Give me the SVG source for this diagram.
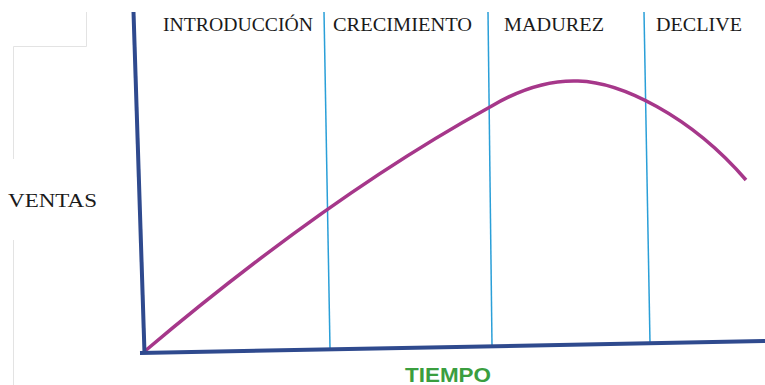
<svg xmlns="http://www.w3.org/2000/svg" width="765" height="385" viewBox="0 0 765 385">
<style>
.frame{stroke:#e3e3e3;stroke-width:1;fill:none}
.axis{stroke:#2f4a8e;stroke-width:4;fill:none;stroke-linecap:butt}
.div{stroke:#2a9fd8;stroke-width:1.5;fill:none}
.curve{stroke:#a6378a;stroke-width:3.5;fill:none}
.lbl{font-family:"Liberation Serif","Times New Roman",serif;font-size:19px;fill:#1a1a1a}
.tiempo{font-family:"Liberation Sans",Arial,sans-serif;font-size:21px;font-weight:bold;fill:#3a9e3f}
</style>
<rect width="765" height="385" fill="#ffffff"/>
<g id="frame">
<path class="frame" d="M86.5,12 V46.5 H13.5 V159 M13.5,240 V385"/>
</g>
<g id="connectors">
<line class="div" x1="324" y1="12" x2="330" y2="348"/>
<line class="div" x1="488" y1="12" x2="492" y2="345"/>
<line class="div" x1="644" y1="12" x2="650" y2="343"/>
<path class="curve" d="M145,351 Q330,195 490,107 C520,89 550,80 578,81 C620,82 690,115 746,180"/>
<line class="axis" x1="133.5" y1="12" x2="144.5" y2="353"/>
<line class="axis" x1="140" y1="353" x2="765" y2="341"/>
</g>
<g id="introduccion"><text class="lbl" x="163" y="31" textLength="150" lengthAdjust="spacingAndGlyphs">INTRODUCCIÓN</text></g>
<g id="crecimiento"><text class="lbl" x="333" y="31" textLength="139" lengthAdjust="spacingAndGlyphs">CRECIMIENTO</text></g>
<g id="madurez"><text class="lbl" x="504" y="31" textLength="100" lengthAdjust="spacingAndGlyphs">MADUREZ</text></g>
<g id="declive"><text class="lbl" x="656" y="31" textLength="86" lengthAdjust="spacingAndGlyphs">DECLIVE</text></g>
<g id="ventas"><text class="lbl" x="8" y="207" textLength="89" lengthAdjust="spacingAndGlyphs">VENTAS</text></g>
<g id="tiempo"><text class="tiempo" x="405" y="382" textLength="86" lengthAdjust="spacingAndGlyphs">TIEMPO</text></g>
</svg>
